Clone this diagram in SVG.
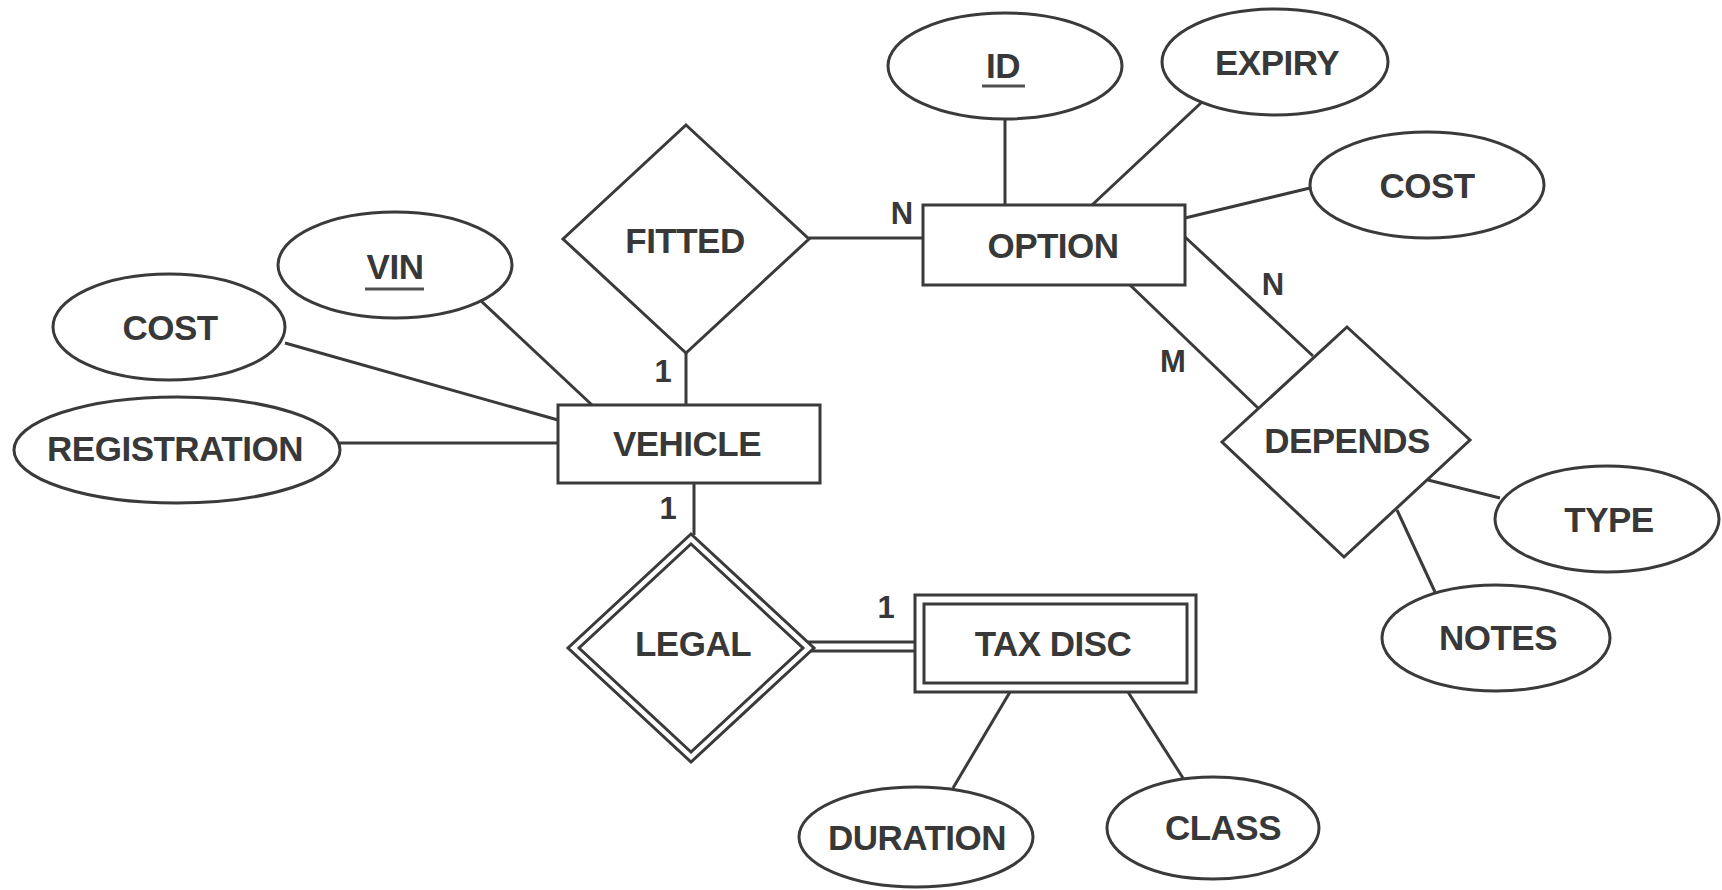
<svg xmlns="http://www.w3.org/2000/svg" width="1722" height="890" viewBox="0 0 1722 890">
<style>
  .shape { fill: #ffffff; stroke: #3a3a3a; stroke-width: 3; }
  .conn { stroke: #3a3a3a; stroke-width: 3; fill: none; }
  .t { font-family: "Liberation Sans", Arial, sans-serif; font-size: 35px; font-weight: bold; letter-spacing: -0.5px; fill: #383838; text-anchor: middle; }
  .lbl { font-family: "Liberation Sans", Arial, sans-serif; font-size: 31px; font-weight: bold; fill: #383838; text-anchor: middle; }
  .ul { stroke: #505050; stroke-width: 3; }
</style>
<rect width="1722" height="890" fill="#ffffff"/>

<g id="connectors">
  <line class="conn" x1="480" y1="300" x2="592" y2="405"/>
  <line class="conn" x1="285" y1="343" x2="558" y2="420"/>
  <line class="conn" x1="339" y1="443" x2="558" y2="443"/>
  <line class="conn" x1="686" y1="353" x2="686" y2="405"/>
  <line class="conn" x1="694" y1="483" x2="694" y2="535"/>
  <line class="conn" x1="809" y1="238" x2="923" y2="238"/>
  <line class="conn" x1="808" y1="642" x2="915" y2="642"/>
  <line class="conn" x1="808" y1="651" x2="915" y2="651"/>
  <line class="conn" x1="1005" y1="119" x2="1005" y2="205"/>
  <line class="conn" x1="1202" y1="102" x2="1092" y2="205"/>
  <line class="conn" x1="1185" y1="218" x2="1310" y2="188"/>
  <line class="conn" x1="1185" y1="237" x2="1313" y2="356"/>
  <line class="conn" x1="1130" y1="285" x2="1258" y2="408"/>
  <line class="conn" x1="1428" y1="480" x2="1500" y2="498"/>
  <line class="conn" x1="1397" y1="510" x2="1435" y2="592"/>
  <line class="conn" x1="1010" y1="692" x2="953" y2="788"/>
  <line class="conn" x1="1128" y1="692" x2="1183" y2="778"/>
  <text class="lbl" x="902" y="224">N</text>
  <text class="lbl" x="663" y="382">1</text>
  <text class="lbl" x="668" y="519">1</text>
  <text class="lbl" x="886" y="618">1</text>
  <text class="lbl" x="1273" y="295">N</text>
  <text class="lbl" x="1173" y="372">M</text>
</g>

<g id="vin">
  <ellipse class="shape" cx="395" cy="265" rx="117" ry="53"/>
  <text class="t" x="395" y="279">VIN</text>
  <line class="ul" x1="365" y1="289" x2="424" y2="289"/>
</g>
<g id="cost-vehicle">
  <ellipse class="shape" cx="169" cy="327" rx="116" ry="53"/>
  <text class="t" x="170" y="340">COST</text>
</g>
<g id="registration">
  <ellipse class="shape" cx="177" cy="450" rx="163" ry="53"/>
  <text class="t" x="175" y="461">REGISTRATION</text>
</g>
<g id="vehicle">
  <rect class="shape" x="558" y="405" width="262" height="78"/>
  <text class="t" x="687" y="456">VEHICLE</text>
</g>
<g id="fitted">
  <polygon class="shape" points="686,125 809,239 686,353 563,239"/>
  <text class="t" x="685" y="253">FITTED</text>
</g>
<g id="option">
  <rect class="shape" x="923" y="205" width="262" height="80"/>
  <text class="t" x="1053" y="258">OPTION</text>
</g>
<g id="id">
  <ellipse class="shape" cx="1005" cy="66" rx="117" ry="53"/>
  <text class="t" x="1003" y="78">ID</text>
  <line class="ul" x1="982" y1="86" x2="1025" y2="86"/>
</g>
<g id="expiry">
  <ellipse class="shape" cx="1275" cy="62" rx="113" ry="53"/>
  <text class="t" x="1277" y="75">EXPIRY</text>
</g>
<g id="cost-option">
  <ellipse class="shape" cx="1427" cy="185" rx="117" ry="53"/>
  <text class="t" x="1427" y="198">COST</text>
</g>
<g id="depends">
  <polygon class="shape" points="1347,327 1470,440 1344,557 1222,442"/>
  <text class="t" x="1347" y="453">DEPENDS</text>
</g>
<g id="type">
  <ellipse class="shape" cx="1607" cy="519" rx="112" ry="53"/>
  <text class="t" x="1609" y="532">TYPE</text>
</g>
<g id="notes">
  <ellipse class="shape" cx="1496" cy="638" rx="114" ry="53"/>
  <text class="t" x="1498" y="650">NOTES</text>
</g>
<g id="legal">
  <polygon class="shape" points="691,534 814,648 691,762 568,648"/>
  <polygon class="shape" points="691,544 803,648 691,752 579,648"/>
  <text class="t" x="693" y="656">LEGAL</text>
</g>
<g id="tax-disc">
  <rect class="shape" x="915" y="595" width="281" height="97"/>
  <rect class="shape" x="924" y="604" width="263" height="79"/>
  <text class="t" x="1053" y="656">TAX DISC</text>
</g>
<g id="duration">
  <ellipse class="shape" cx="916" cy="837" rx="117" ry="50"/>
  <text class="t" x="917" y="850">DURATION</text>
</g>
<g id="class">
  <ellipse class="shape" cx="1213" cy="828" rx="106" ry="51"/>
  <text class="t" x="1223" y="840">CLASS</text>
</g>
</svg>
